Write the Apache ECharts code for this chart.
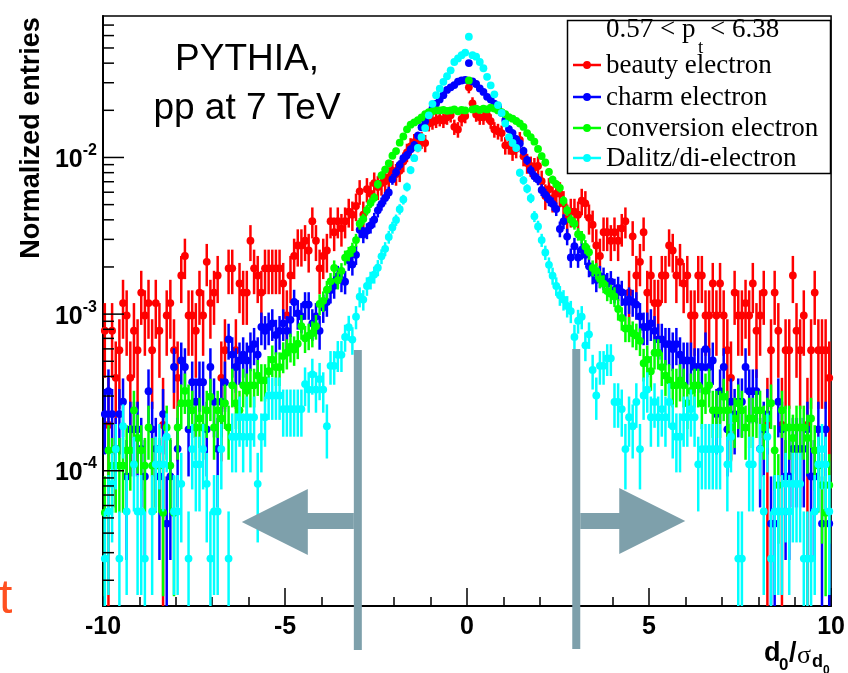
<!DOCTYPE html>
<html><head><meta charset="utf-8">
<script src="https://cdn.jsdelivr.net/npm/echarts@6/dist/echarts.min.js"></script>
<style>html,body{margin:0;padding:0;background:#fff}#c{width:848px;height:673px}</style>
</head><body><div id="c"></div>
<script>
// Histogram binning of d0/sigma_d0 : 200 bins from -10 to 10
const binLow = -10;
const binWidth = 0.1;

// Entries per bin, each series normalised by its own weight per entry
const beautyCounts = [
 4,1,4,2,3,6,5,2,4,3, 7,5,6,3,6,4,1,5,6,3, 2,9,12,5,5,4,7,5,11,6, 7,9,2,3,10,10,3,8,7,7,
 15,10,9,7,10,10,10,10,10,8, 5,9,12,14,14,15,13,20,15,10, 12,13,20,17,20,18,20,23,22,25, 31,22,32,30,35,33,35,36,38,42,
 40,42,48,55,60,64,63,66,63,84, 86,88,90,88,92,95,80,77,90,94, 143,113,96,92,92,95,87,77,75,73, 61,61,56,58,66,52,47,45,44,45,
 36,29,32,28,30,30,26,21,23,23, 22,27,26,21,19,14,12,17,17,15, 17,15,18,20,7,16,9,11,17,7, 9,6,6,9,9,14,13,9,11,8,
 9,5,5,9,9,5,5,8,5,8, 5,3,2,7,5,5,6,5,8,4, 5,7,1,3,7,4,1,3,3,9, 4,3,5,1,3,7,3,3,3,2
];
const charmCounts = [
 5,7,5,3,5,6,2,4,4,4, 3,2,7,4,3,2,5,1,2,10, 3,11,10,4,8,6,8,8,4,10, 6,3,6,8,15,12,10,11,12,11,
 13,14,12,18,17,18,19,16,17,19, 17,20,26,22,21,25,25,19,21,17, 24,26,31,33,38,36,35,48,45,52, 75,70,74,80,87,100,110,120,130,158,
 175,195,215,225,245,261,300,339,370,410, 448,480,510,543,587,610,630,663,674,680, 870,665,640,600,570,530,510,480,461,420, 376,330,311,285,267,239,209,180,165,157,
 135,126,117,110,102,76,85,68,50,59, 50,56,52,44,40,36,38,37,34,35, 31,32,30,26,27,26,25,21,18,18, 19,17,15,15,14,14,13,14,12,11,
 11,11,10,10,10,13,10,11,5,7, 10,4,6,5,6,6,10,7,7,7, 3,4,5,1,1,6,4,2,2,3, 3,3,3,4,2,2,4,1,4,1
];
const conversionCounts = [
 2,5,4,4,4,4,5,5,9,6, 5,4,7,4,4,4,2,7,4,2, 7,10,12,10,9,7,8,7,9,11, 7,9,8,10,7,13,10,9,13,12,
 13,13,15,14,14,16,19,17,17,20, 21,23,22,24,31,26,27,28,31,43, 45,53,60,73,61,70,85,90,96,110, 140,150,171,190,205,250,285,310,340,380,
 407,460,504,560,600,620,640,667,700,720, 730,740,740,745,735,740,750,730,745,740, 1150,750,760,745,760,750,770,760,740,720, 700,670,655,633,610,580,530,500,467,420,
 378,344,300,267,250,237,196,170,148,140, 120,115,100,92,73,70,62,58,52,50, 48,40,35,30,30,28,27,25,18,19, 16,21,21,17,15,14,13,13,14,13,
 10,12,13,13,10,12,13,9,9,9, 11,9,7,8,10,9,7,8,8,9, 9,7,8,10,5,3,9,7,7,6, 7,7,7,6,8,5,4,3,2,3
];
const dalitzCounts = [
 1,2,3,5,1,7,2,0,4,2, 2,1,0,2,4,5,4,6,0,2, 2,3,0,1,5,4,4,5,3,1, 2,2,5,0,1,6,6,8,6,8,
 6,8,3,6,8,11,11,11,11,9, 9,9,9,9,9,13,12,15,12,14, 12,7,17,17,20,20,26,30,25,35, 47,45,55,60,65,72,85,95,113,130,
 145,170,196,236,302,360,418,490,560,676, 800,909,1000,1105,1200,1309,1480,1560,1636,1700, 2145,1636,1600,1480,1350,1190,1050,920,785,700, 600,491,450,418,291,260,230,200,153,132,
 108,90,75,64,55,48,45,41,38,26, 33,35,23,27,16,11,17,17,19,19, 10,10,9,5,8,7,10,5,11,12, 8,10,8,9,8,10,7,6,6,8,
 8,9,8,4,5,5,5,5,5,5, 0,4,6,0,1,1,0,4,4,0, 5,2,6,1,2,2,2,3,2,3, 3,3,1,1,1,2,4,5,4,2
];
// normalised weight of one entry for each sample
const beautyUnit = 1.96e-4;
const charmUnit = 4.6e-5;
const conversionUnit = 2.7e-5;
const dalitzUnit = 2.75e-5;

const seriesNames = ['beauty electron', 'charm electron', 'conversion electron', 'Dalitz/di-electron'];
const seriesColors = ['#ff0000', '#0000ff', '#00ff00', '#00ffff'];
const legendTitle = ['0.57 < p', 't', '< 6.38'];

const xMin = -10, xMax = 10, xInterval = 5;
const yMin = 1.37e-5, yMax = 0.080;
const cutValue = 3; // |d0/sigma| cut marked by the arrows

function toData(counts, unit) {
  const out = [];
  counts.forEach((n, i) => {
    if (!n) return;
    const e = Math.sqrt(n);
    out.push([binLow + binWidth * (i + 0.5), n * unit, (n - e) * unit, (n + e) * unit]);
  });
  return out;
}

function makeRender(color) {
  return function (params, api) {
    const x = api.value(0), v = api.value(1), lo = api.value(2), hi = api.value(3);
    const cs = params.coordSys;
    const top = cs.y, bottom = cs.y + cs.height;
    const p = api.coord([x, v]);
    let yh = api.coord([x, Math.min(hi, yMax)])[1];
    let yl = lo > yMin ? api.coord([x, lo])[1] : bottom;
    yh = Math.max(yh, top); yl = Math.min(yl, bottom);
    const children = [];
    if (yl > yh) children.push({type: 'line', shape: {x1: p[0], y1: yl, x2: p[0], y2: yh}, style: {stroke: color, lineWidth: 2.5}});
    if (p[1] >= top - 1 && p[1] <= bottom + 1) children.push({type: 'circle', shape: {cx: p[0], cy: p[1], r: 3.9}, style: {fill: color}});
    return {type: 'group', children};
  };
}

const yTickData = [];
for (let e = -5; e <= -1; e++) {
  for (let m = 1; m <= 9; m++) {
    const v = m * Math.pow(10, e);
    if (v > yMin && v < yMax) yTickData.push([xMin, v, m === 1 ? 21 : 11]);
  }
}

const chart = echarts.init(document.getElementById('c'));
const countsList = [beautyCounts, charmCounts, conversionCounts, dalitzCounts];
const unitList = [beautyUnit, charmUnit, conversionUnit, dalitzUnit];

const series = countsList.map((c, k) => ({
  type: 'custom', name: seriesNames[k], renderItem: makeRender(seriesColors[k]),
  data: toData(c, unitList[k]), encode: {x: 0, y: 1}, z: 2 + k, silent: true
}));
series.push({
  type: 'custom', name: 'yticks', silent: true, z: 10,
  renderItem: (params, api) => {
    const p = api.coord([api.value(0), api.value(1)]);
    return {type: 'line', shape: {x1: p[0], y1: p[1], x2: p[0] + api.value(2), y2: p[1]}, style: {stroke: '#000', lineWidth: 1.5}};
  },
  data: yTickData, encode: {x: 0, y: 1}
});

chart.setOption({
  animation: false,
  backgroundColor: '#fff',
  grid: {left: 103, right: 13, top: 16, bottom: 67, show: true, borderColor: '#000', borderWidth: 1.5, backgroundColor: 'transparent'},
  xAxis: {
    type: 'value', min: xMin, max: xMax, interval: xInterval,
    axisLine: {show: true, onZero: false, lineStyle: {color: '#000', width: 2}},
    axisTick: {show: true, inside: true, length: 18, lineStyle: {color: '#000', width: 1.5}},
    minorTick: {show: true, splitNumber: 5, length: 9, lineStyle: {color: '#000', width: 1.5}},
    splitLine: {show: false},
    axisLabel: {color: '#000', fontSize: 25, fontWeight: 'bold', fontFamily: 'Liberation Sans', margin: 9}
  },
  yAxis: {
    type: 'log', logBase: 10, min: yMin, max: yMax,
    axisLine: {show: true, onZero: false, lineStyle: {color: '#000', width: 2}},
    axisTick: {show: false}, minorTick: {show: false}, splitLine: {show: false}, minorSplitLine: {show: false},
    axisLabel: {
      margin: 6, showMinLabel: true, showMaxLabel: true,
      formatter: v => {
        const l = Math.log10(v), r = Math.round(l);
        if (Math.abs(l - r) > 1e-6) return '';
        return '{a|10}{b|' + r + '}';
      },
      rich: {
        a: {fontSize: 25, fontWeight: 'bold', fontFamily: 'Liberation Sans', color: '#000', verticalAlign: 'bottom', lineHeight: 30},
        b: {fontSize: 16, fontWeight: 'bold', fontFamily: 'Liberation Sans', color: '#000', verticalAlign: 'top', lineHeight: 16}
      }
    }
  },
  series
});

const xl = chart.convertToPixel({xAxisIndex: 0}, -cutValue);
const xr = chart.convertToPixel({xAxisIndex: 0}, cutValue);
const arrowColor = '#7ea0ab';
const sans = '"Liberation Sans", Arial, sans-serif';
const serif = '"Liberation Serif", "Times New Roman", serif';
const legendY = [65, 97, 128, 158];

const graphic = [
  // arrows marking the cut
  {type: 'rect', z: 100, shape: {x: xl - 4, y: 350, width: 8, height: 300}, style: {fill: arrowColor}},
  {type: 'rect', z: 100, shape: {x: xl - 51, y: 513, width: 47, height: 16}, style: {fill: arrowColor}},
  {type: 'polygon', z: 100, shape: {points: [[xl - 50, 489], [xl - 50, 555], [xl - 116, 522]]}, style: {fill: arrowColor}},
  {type: 'rect', z: 100, shape: {x: xr - 4, y: 349, width: 8, height: 300}, style: {fill: arrowColor}},
  {type: 'rect', z: 100, shape: {x: xr + 4, y: 513, width: 40, height: 16}, style: {fill: arrowColor}},
  {type: 'polygon', z: 100, shape: {points: [[xr + 43, 488], [xr + 43, 554], [xr + 109, 521]]}, style: {fill: arrowColor}},
  // texts
  {type: 'text', z: 100, x: 247, y: 60, style: {text: 'PYTHIA,', font: '37px ' + sans, fill: '#000', align: 'center', verticalAlign: 'middle'}},
  {type: 'text', z: 100, x: 247, y: 109, style: {text: 'pp at 7 TeV', font: '37px ' + sans, fill: '#000', align: 'center', verticalAlign: 'middle'}},
  {type: 'text', z: 100, x: 32, y: 138, rotation: Math.PI / 2, style: {text: 'Normalized entries', font: 'bold 27px ' + sans, fill: '#000', align: 'center', verticalAlign: 'middle'}},
  {type: 'text', z: 100, x: -1, y: 600, style: {text: 't', font: '48px ' + sans, fill: '#ff5020', align: 'left', verticalAlign: 'middle'}},
  // x axis title d0/sigma_d0
  {type: 'text', z: 100, x: 764, y: 654, style: {text: 'd', font: 'bold 27px ' + sans, fill: '#000', align: 'left', verticalAlign: 'middle'}},
  {type: 'text', z: 100, x: 779, y: 665, style: {text: '0', font: 'bold 17px ' + sans, fill: '#000', align: 'left', verticalAlign: 'middle'}},
  {type: 'text', z: 100, x: 789, y: 654, style: {text: '/', font: 'bold 27px ' + sans, fill: '#000', align: 'left', verticalAlign: 'middle'}},
  {type: 'text', z: 100, x: 797, y: 656, style: {text: 'σ', font: '26px ' + serif, fill: '#000', align: 'left', verticalAlign: 'middle'}},
  {type: 'text', z: 100, x: 812, y: 662, style: {text: 'd', font: 'bold 18px ' + sans, fill: '#000', align: 'left', verticalAlign: 'middle'}},
  {type: 'text', z: 100, x: 823, y: 671, style: {text: '0', font: 'bold 12px ' + sans, fill: '#000', align: 'left', verticalAlign: 'middle'}},
  // legend box
  {type: 'rect', z: 200, shape: {x: 567.5, y: 20.5, width: 263, height: 153}, style: {fill: '#fff', stroke: '#000', lineWidth: 1.5}},
  {type: 'text', z: 201, x: 606, y: 30, style: {text: legendTitle[0], font: '27px ' + serif, fill: '#000', align: 'left', verticalAlign: 'middle'}},
  {type: 'text', z: 201, x: 698, y: 48, style: {text: legendTitle[1], font: '19px ' + serif, fill: '#000', align: 'left', verticalAlign: 'middle'}},
  {type: 'text', z: 201, x: 710, y: 30, style: {text: legendTitle[2], font: '27px ' + serif, fill: '#000', align: 'left', verticalAlign: 'middle'}}
];
seriesNames.forEach((name, k) => {
  const y = legendY[k];
  graphic.push({type: 'line', z: 201, shape: {x1: 573, y1: y, x2: 601, y2: y}, style: {stroke: seriesColors[k], lineWidth: 2.5}});
  graphic.push({type: 'circle', z: 202, shape: {cx: 587, cy: y, r: 3.9}, style: {fill: seriesColors[k]}});
  graphic.push({type: 'text', z: 201, x: 606, y: y + 1, style: {text: name, font: '27px ' + serif, fill: '#000', align: 'left', verticalAlign: 'middle'}});
});
chart.setOption({graphic});
</script>
</body></html>
